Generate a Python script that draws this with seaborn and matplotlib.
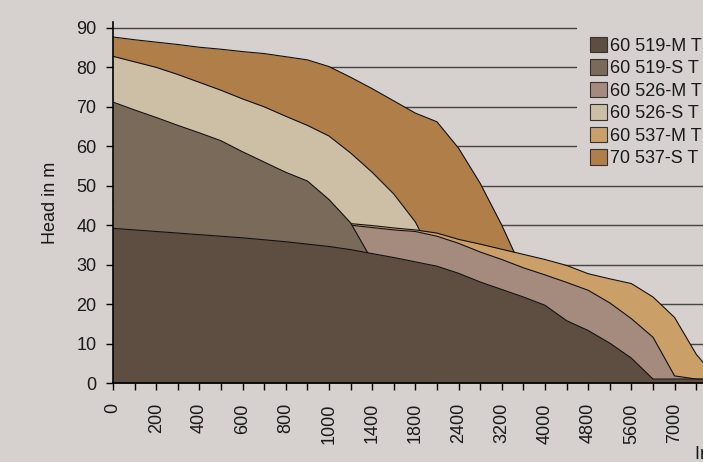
import numpy as np
import matplotlib
matplotlib.use("Agg")
import matplotlib.pyplot as plt
from matplotlib.patches import Patch
import seaborn as sns

# ---- data ----
categories = [0, 100, 200, 300, 400, 500, 600, 700, 800, 900, 1000, 1200, 1400, 1600,
              1800, 2100, 2400, 2800, 3200, 3600, 4000, 4400, 4800, 5200, 5600, 6300,
              7000, 7700, 8400]
labelled = [0, 200, 400, 600, 800, 1000, 1400, 1800, 2400, 3200, 4000, 4800, 5600, 7000]

m519 = [39.2, 38.8, 38.4, 38.0, 37.6, 37.2, 36.8, 36.3, 35.8, 35.2, 34.6, 33.8, 32.8, 31.8,
        30.7, 29.6, 27.8, 25.6, 23.7, 21.8, 19.7, 15.8, 13.3, 10.1, 6.3, 1.0, 1.0, 1.0, 1.0]
s519 = [71.2, 69.2, 67.3, 65.3, 63.4, 61.4, 58.6, 56.0, 53.4, 51.2, 46.5, 40.6, 31.0, 20.0,
        8.0, 0, 0, 0, 0, 0, 0, 0, 0, 0, 0, 0, 0, 0, 0]
m526 = [44.0, 43.8, 43.6, 43.4, 43.2, 43.0, 42.6, 42.2, 41.8, 41.3, 40.8, 40.0, 39.4, 38.8,
        38.4, 37.2, 35.4, 33.2, 31.3, 29.2, 27.4, 25.5, 23.5, 20.3, 16.3, 11.6, 1.8, 1.0, 0.8]
s526 = [82.8, 81.4, 80.0, 78.2, 76.2, 74.2, 72.0, 70.0, 67.6, 65.3, 62.6, 58.3, 53.4, 47.9,
        40.8, 30.0, 15.0, 0, 0, 0, 0, 0, 0, 0, 0, 0, 0, 0, 0]
m537 = [46.0, 45.7, 45.4, 45.0, 44.6, 44.2, 43.7, 43.2, 42.6, 42.0, 41.3, 40.4, 39.9, 39.3,
        38.8, 38.0, 36.4, 35.2, 33.9, 32.6, 31.3, 29.8, 27.7, 26.4, 25.2, 21.8, 16.6, 7.3, 0.8]
s537 = [87.7, 87.0, 86.4, 85.8, 85.1, 84.6, 84.0, 83.5, 82.7, 81.9, 80.2, 77.5, 74.6, 71.5,
        68.4, 66.2, 59.5, 50.6, 40.0, 28.0, 15.0, 2.0, 0, 0, 0, 0, 0, 0, 0]

names = ["60 519-M T", "60 519-S T", "60 526-M T", "60 526-S T", "60 537-M T", "70 537-S T"]
series = [m519, s519, m526, s526, m537, s537]
colors = ["#5e4e42", "#7a6a5a", "#a48b7d", "#cdbfa5", "#cba068", "#b07f49"]
# drawing order, back to front
draw_order = [5, 3, 4, 2, 1, 0]

BG = "#d6d0ce"

sns.set_style("ticks")
plt.rcParams["font.family"] = ["Liberation Sans", "DejaVu Sans"]

fig = plt.figure(figsize=(7.03, 4.62), dpi=100, facecolor=BG)
ax = fig.add_axes([113 / 703, 79 / 462, 604.8 / 703, 361 / 462])
ax.set_facecolor("none")

x = np.arange(len(categories))
for k, idx in enumerate(draw_order):
    vals = np.array(series[idx], dtype=float)
    ax.fill_between(x, 0, vals, color=colors[idx], lw=0, zorder=2 + 2 * k)
    sns.lineplot(x=x, y=vals, ax=ax, color="#111111", lw=0.8, zorder=3 + 2 * k,
                 legend=False, sort=False, estimator=None)

ax.set_xlim(0, len(categories) - 1)
ax.set_ylim(0, 91.5)
ax.set_yticks(np.arange(0, 91, 10))
ax.set_xticks(x)
ax.set_xticklabels([str(c) if c in labelled else "" for c in categories], rotation=90)

ax.yaxis.grid(True, color="#444444", lw=1.0)
ax.xaxis.grid(False)
ax.set_axisbelow(True)

for s in ["top", "right"]:
    ax.spines[s].set_visible(False)
for s in ["left", "bottom"]:
    ax.spines[s].set_color("black")
    ax.spines[s].set_linewidth(1.2)
    ax.spines[s].set_zorder(30)

ax.tick_params(axis="both", direction="out", length=5, width=1, color="black",
               labelsize=13, labelcolor="#1a1a1a")
ax.tick_params(axis="y", pad=7)
ax.tick_params(axis="x", pad=9.5)

ax.set_ylabel("Head in m", fontsize=13, color="#1a1a1a", labelpad=12)
ax.set_xlabel("")
fig.text(695 / 703, 1 - 446 / 462, "Inflow in l/h", ha="left", va="top",
         fontsize=13, color="#1a1a1a")

handles = [Patch(facecolor=colors[i], edgecolor="#333333", lw=0.8, label=names[i])
           for i in range(len(names))]
fig.legend(handles=handles, loc="upper left", bbox_to_anchor=(577 / 703, 1 - 24 / 462),
           frameon=True, facecolor=BG, edgecolor="none", framealpha=1, fancybox=False,
           borderpad=0.7, borderaxespad=0, handlelength=0.95, handleheight=0.95,
           handletextpad=0.15, labelspacing=0.25, fontsize=13, labelcolor="#1a1a1a")

fig.savefig("out.png", dpi=100, facecolor=BG)
